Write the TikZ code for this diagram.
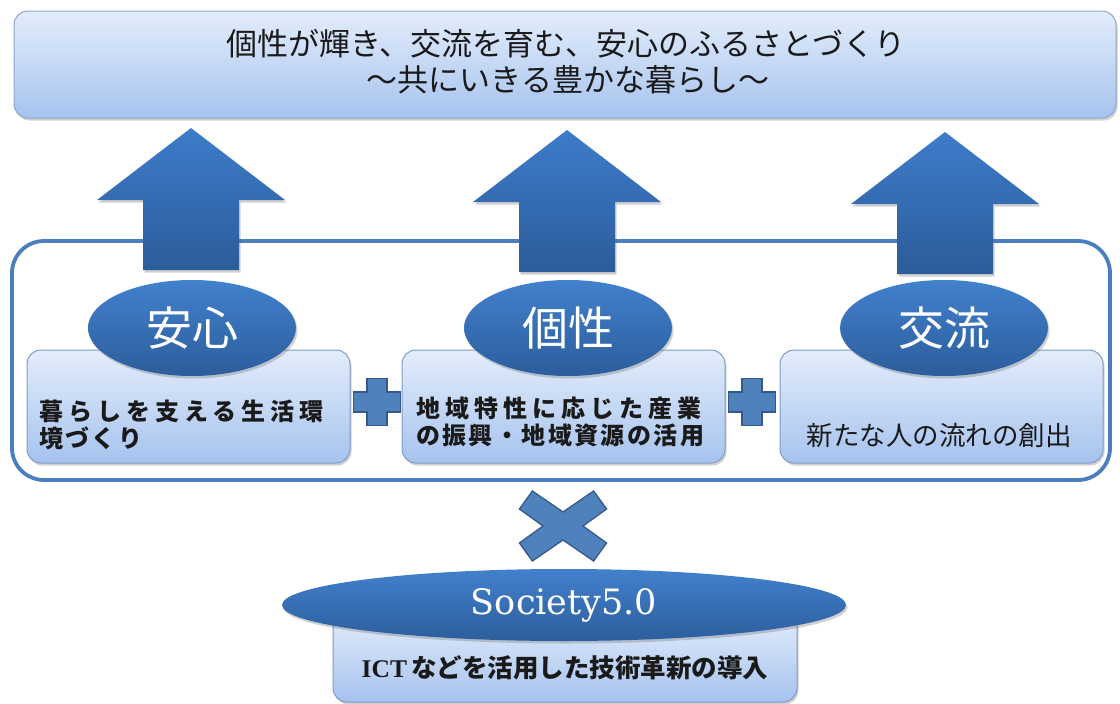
\documentclass[tikz,border=0pt]{standalone}
\usepackage{fontspec}
\setmainfont{Noto Sans CJK JP}
\newfontfamily\jpspA[LetterSpace=21]{Noto Sans CJK JP}
\newfontfamily\jpspB[LetterSpace=10]{Noto Sans CJK JP}
\newfontfamily\serifwide{DejaVu Serif}
\newfontfamily\latinserif{Liberation Serif}
\usetikzlibrary{shapes.geometric,shadows}
\definecolor{boxtop}{HTML}{E3EDFB}
\definecolor{boxbot}{HTML}{A6C3EE}
\definecolor{boxline}{HTML}{7F9CC8}
\definecolor{elltop}{HTML}{4281CD}
\definecolor{ellbot}{HTML}{2C5D9C}
\definecolor{arrtop}{HTML}{3D7CCA}
\definecolor{arrbot}{HTML}{2C5C9A}
\definecolor{frameblue}{HTML}{4A7EBE}
\definecolor{symfill}{HTML}{4F81BD}
\definecolor{symline}{HTML}{35598A}
\definecolor{txt}{HTML}{1A1A1A}
\tikzset{
  softshadow/.style={drop shadow={shadow xshift=1.5pt,shadow yshift=-2.5pt,opacity=0.3,fill=black!60}},
  lightbox/.style={draw=boxline,line width=1pt,rounded corners=14pt,top color=boxtop,bottom color=boxbot,softshadow,inner sep=0pt},
  blueoval/.style={ellipse,inner sep=0pt,top color=elltop,bottom color=ellbot,draw=none,text=white,softshadow},
  arrowstyle/.style={top color=arrtop,bottom color=arrbot,draw=none,softshadow},
  symstyle/.style={fill=symfill,draw=symline,line width=1.3pt,line join=miter},
  framestyle/.style={draw=frameblue,line width=3.8pt,rounded corners=32pt},
  boxtxt/.style={text=txt,font=\bfseries\fontsize{24}{27}\selectfont,inner sep=0pt,anchor=west},
  uparrow/.pic={\path[arrowstyle] (0,0) -- (94,-72) -- (48,-72) -- (48,-142) -- (-48,-142) -- (-48,-72) -- (-94,-72) -- cycle;},
  plussign/.pic={\path[symstyle] (-10,23.5) -- (10,23.5) -- (10,10) -- (23.5,10) -- (23.5,-10) -- (10,-10) -- (10,-23.5) -- (-10,-23.5) -- (-10,-10) -- (-23.5,-10) -- (-23.5,10) -- (-10,10) -- cycle;},
  crosssign/.pic={\path[symstyle] (0,14) -- (30.6,35) -- (43.6,17) -- (20,0) -- (43.6,-17) -- (30.6,-35) -- (0,-14) -- (-30.6,-35) -- (-43.6,-17) -- (-20,0) -- (-43.6,17) -- (-30.6,35) -- cycle;}
}
\begin{document}
\begin{tikzpicture}[x=1pt,y=1pt]
\useasboundingbox[fill=white] (0,0) rectangle (1120,-704);
% top goal box
\node[lightbox,draw=boxline!90,minimum width=1102pt,minimum height=107pt] (top) at (565,-64.5) {};
\node[text=txt,font=\fontsize{31}{35}\selectfont] (t1) at (566,-44) {個性が輝き、交流を育む、安心のふるさとづくり};
\node[text=txt,font=\fontsize{31}{35}\selectfont] (t2) at (568,-80) {～共にいきる豊かな暮らし～};
% container frame
\draw[framestyle] (12,-241) rectangle (1110,-480);
% arrows
\pic (arr1) at (191,-128) {uparrow};
\pic (arr2) at (567,-130) {uparrow};
\pic (arr3) at (945,-132) {uparrow};
% three boxes
\node[lightbox,minimum width=323pt,minimum height=113pt] (b1) at (188.5,-406.5) {};
\node[lightbox,minimum width=323pt,minimum height=113pt] (b2) at (563.5,-406.5) {};
\node[lightbox,minimum width=323pt,minimum height=113pt] (b3) at (941.5,-406.5) {};
% ovals
\node[blueoval,minimum width=208pt,minimum height=96pt,font=\fontsize{46}{50}\selectfont] (e1) at (192,-328) {安心};
\node[blueoval,minimum width=208pt,minimum height=96pt,font=\fontsize{46}{50}\selectfont] (e2) at (568,-328) {個性};
\node[blueoval,minimum width=208pt,minimum height=96pt,font=\fontsize{46}{50}\selectfont] (e3) at (944,-328) {交流};
% box texts
\node[boxtxt] (b1t1) at (39,-411) {\jpspA\bfseries 暮らしを支える生活環};
\node[boxtxt] (b1t2) at (39,-438) {\jpspB\bfseries 境づくり};
\node[boxtxt] (b2t1) at (416,-408) {\jpspA\bfseries 地域特性に応じた産業};
\node[boxtxt] (b2t2) at (416,-435) {\jpspB\bfseries の振興・地域資源の活用};
\node[text=txt,font=\fontsize{26.5}{30}\selectfont] (b3t) at (939,-435) {新たな人の流れの創出};
% plus signs
\pic (plus1) at (377,-402) {plussign};
\pic (plus2) at (752,-402) {plussign};
% cross
\pic (cross) at (563,-526) {crosssign};
% Society 5.0
\node[lightbox,minimum width=464pt,minimum height=90pt] (sb) at (565,-657) {};
\node[blueoval,minimum width=564pt,minimum height=72pt,font=\serifwide\fontsize{35}{40}\selectfont] (se) at (564,-605) {Society5.0};
\node[text=txt,font=\bfseries\fontsize{25.5}{28}\selectfont] (st) at (565,-668) {{\latinserif\bfseries ICT}\,などを活用した技術革新の導入};
\end{tikzpicture}
\end{document}
